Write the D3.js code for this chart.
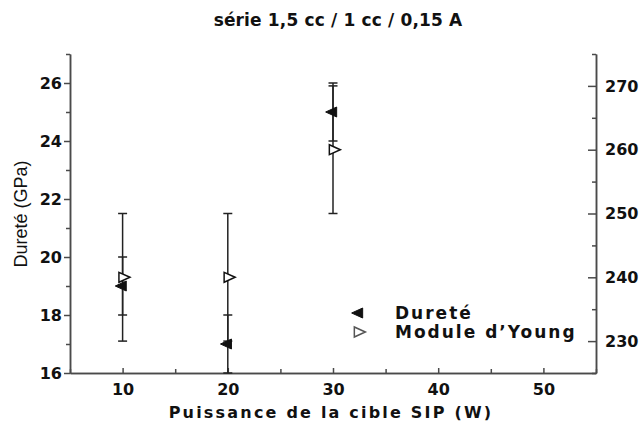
<!DOCTYPE html>
<html>
<head>
<meta charset="utf-8">
<script src="https://cdn.jsdelivr.net/npm/d3@7/dist/d3.min.js"></script>
<style>
  html, body { margin: 0; padding: 0; background: #fff; }
  svg { display: block; }
  .lbl { font-family: "DejaVu Sans", sans-serif; font-weight: bold; fill: #111; }
</style>
</head>
<body>
<svg id="chart" width="643" height="423"></svg>
<script>
// ---- data ----
const power      = [10, 20, 30];          // Puissance de la cible SIP (W)
const durete     = [19, 17, 25];          // Dureté (GPa)
const dureteErr  = [1, 1, 1];
const young      = [240, 240, 260];       // Module d'Young (GPa)
const youngErr   = [10, 10, 10];
const xTicks     = [10, 20, 30, 40, 50];
const xMinor     = [5, 15, 25, 35, 45, 55];
const yLTicks    = [16, 18, 20, 22, 24, 26];
const yLMinor    = [17, 19, 21, 23, 25, 27];
const yRTicks    = [230, 240, 250, 260, 270];
const yRMinor    = [225, 235, 245, 255, 265, 275];
const title      = "série 1,5 cc / 1 cc / 0,15 A";
const xTitle     = "Puissance de la cible SIP (W)";
const yTitle     = "Dureté (GPa)";
const legendLabels = ["Dureté", "Module d’Young"];

const svg = d3.select("#chart");
const L = 70, R = 596, T = 54, B = 373;
const x  = d3.scaleLinear().domain([5, 55]).range([L, R]);
const yL = d3.scaleLinear().domain([16, 27]).range([B, T]);
const yR = d3.scaleLinear().domain([225, 275]).range([B, T]);

const axisColor = "#4a4a4a";
function styleAxis(g) {
  g.selectAll("path, line").attr("stroke", axisColor).attr("stroke-width", 1.5);
  g.selectAll("text").attr("class", "lbl").attr("font-size", 16).attr("fill", "#111");
}

// bottom axis
svg.append("g").attr("transform", `translate(0,${B})`)
  .call(d3.axisBottom(x).tickValues(xTicks).tickSizeInner(-5).tickSizeOuter(0).tickPadding(11).tickFormat(d3.format("d")))
  .call(styleAxis).call(g => g.selectAll("text").attr("dy", "0.71em"));
svg.append("g").attr("transform", `translate(0,${B})`)
  .call(d3.axisBottom(x).tickValues(xMinor).tickSizeInner(-4).tickSizeOuter(0).tickFormat(""))
  .call(styleAxis);

// left axis
svg.append("g").attr("transform", `translate(${L},0)`)
  .call(d3.axisLeft(yL).tickValues(yLTicks).tickSizeInner(6).tickSizeOuter(0).tickPadding(2).tickFormat(d3.format("d")))
  .call(styleAxis);
svg.append("g").attr("transform", `translate(${L},0)`)
  .call(d3.axisLeft(yL).tickValues(yLMinor).tickSizeInner(4).tickSizeOuter(0).tickFormat(""))
  .call(styleAxis);

// right axis
svg.append("g").attr("transform", `translate(${R},0)`)
  .call(d3.axisRight(yR).tickValues(yRTicks).tickSizeInner(-8).tickSizeOuter(0).tickPadding(9).tickFormat(d3.format("d")))
  .call(styleAxis);
svg.append("g").attr("transform", `translate(${R},0)`)
  .call(d3.axisRight(yR).tickValues(yRMinor).tickSizeInner(-4).tickSizeOuter(0).tickFormat(""))
  .call(styleAxis);

// error bars
const cap = 4.5;
function errBar(xv, yScale, v, e) {
  const g = svg.append("g").attr("stroke", "#222").attr("stroke-width", 1.5);
  const px = x(xv);
  const y1 = Math.min(yScale(v - e), B), y2 = yScale(v + e);
  g.append("line").attr("x1", px).attr("x2", px).attr("y1", y1).attr("y2", y2);
  g.append("line").attr("x1", px - cap).attr("x2", px + cap).attr("y1", y2).attr("y2", y2);
  if (yScale(v - e) <= B)
    g.append("line").attr("x1", px - cap).attr("x2", px + cap).attr("y1", yScale(v - e)).attr("y2", yScale(v - e));
}
power.forEach((p, i) => {
  errBar(p, yR, young[i], youngErr[i]);
  errBar(p, yL, durete[i], dureteErr[i]);
});

// markers
const w = 11, h = 10;
function triLeft(cx, cy) {   // centroid-centred left-pointing triangle
  return `M${cx - 2*w/3},${cy} L${cx + w/3},${cy - h/2} L${cx + w/3},${cy + h/2} Z`;
}
function triRight(cx, cy) {
  return `M${cx + 2*w/3},${cy} L${cx - w/3},${cy - h/2} L${cx - w/3},${cy + h/2} Z`;
}
power.forEach((p, i) => {
  svg.append("path").attr("d", triRight(x(p), yR(young[i])))
    .attr("fill", "#fff").attr("stroke", "#111").attr("stroke-width", 1.5);
  svg.append("path").attr("d", triLeft(x(p), yL(durete[i])))
    .attr("fill", "#111").attr("stroke", "#111").attr("stroke-width", 1);
});

// legend
svg.append("path").attr("d", triLeft(359, 313)).attr("fill", "#111").attr("stroke", "#111");
svg.append("path").attr("d", triRight(358, 332)).attr("fill", "#fff").attr("stroke", "#555").attr("stroke-width", 1.5);
svg.append("text").attr("class", "lbl").attr("x", 395).attr("y", 319).attr("font-size", 17)
  .attr("letter-spacing", 2).text(legendLabels[0]);
svg.append("text").attr("class", "lbl").attr("x", 395).attr("y", 338).attr("font-size", 17)
  .attr("letter-spacing", 2).text(legendLabels[1]);

// titles
svg.append("text").attr("class", "lbl").attr("x", 338).attr("y", 26).attr("font-size", 17)
  .attr("text-anchor", "middle").attr("letter-spacing", 0.15).text(title);
svg.append("text").attr("class", "lbl").attr("x", 331).attr("y", 418).attr("font-size", 16)
  .attr("text-anchor", "middle").attr("letter-spacing", 2.2).text(xTitle);
svg.append("text").attr("transform", `translate(27,214) rotate(-90)`)
  .attr("text-anchor", "middle").attr("font-family", "Liberation Sans, Arial, sans-serif")
  .attr("font-size", 18).attr("fill", "#111").text(yTitle);
</script>
</body>
</html>
